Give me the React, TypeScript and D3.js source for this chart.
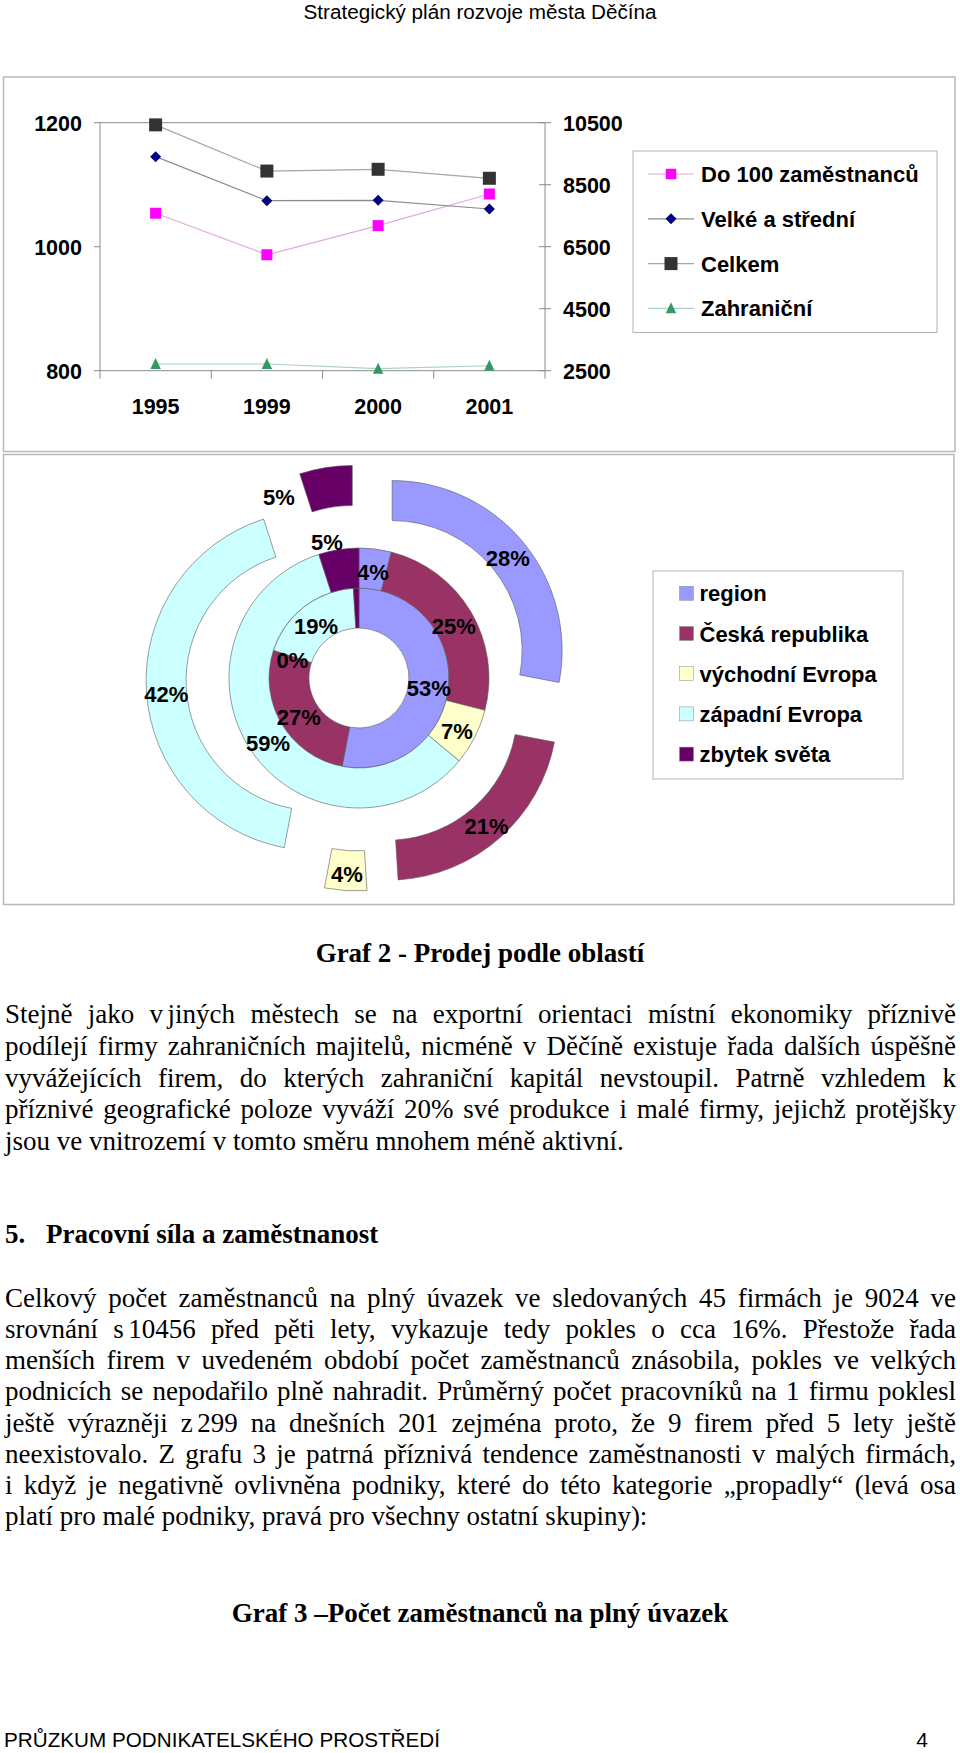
import React, { useLayoutEffect, useRef } from 'react';
import * as d3 from 'd3';

// ---------- data ----------
const years = ['1995', '1999', '2000', '2001'];
const lineSeriesNames = ['Do 100 zaměstnanců', 'Velké a střední', 'Celkem', 'Zahraniční'];
const do100 = [1054, 987, 1034, 1085];
const velke = [9404, 7984, 7995, 7716];
const celkem = [10430, 8940, 8997, 8707];
const zahranicni = [2716, 2716, 2565, 2660];
const leftTicks = [800, 1000, 1200];
const rightTicks = [2500, 4500, 6500, 8500, 10500];

const regions = ['region', 'Česká republika', 'východní Evropa', 'západní Evropa', 'zbytek světa'];
const regionColors = ['#9999FF', '#993366', '#FFFFCC', '#CCFFFF', '#660066'];
const innerRing = [53, 27, 0, 19, 1];
const middleRing = [4, 25, 7, 59, 5];
const outerRing = [28, 21, 4, 42, 5];

const headerText = 'Strategický plán rozvoje města Děčína';
const graf2Title = 'Graf 2 - Prodej podle oblastí';
const para1 = [
  'Stejně jako v\u2006jiných městech se na exportní orientaci místní ekonomiky příznivě',
  'podílejí firmy zahraničních majitelů, nicméně v Děčíně existuje řada dalších úspěšně',
  'vyvážejících firem, do kterých zahraniční kapitál nevstoupil. Patrně vzhledem k',
  'příznivé geografické poloze vyváží 20% své produkce i malé firmy, jejichž protějšky',
  'jsou ve vnitrozemí v tomto směru mnohem méně aktivní.',
];
const sectionNum = '5.';
const sectionTitle = 'Pracovní síla a zaměstnanost';
const para2 = [
  'Celkový počet zaměstnanců na plný úvazek ve sledovaných 45 firmách je 9024 ve',
  'srovnání s\u200610456 před pěti lety, vykazuje tedy pokles o cca 16%. Přestože řada',
  'menších firem v uvedeném období počet zaměstnanců znásobila, pokles ve velkých',
  'podnicích se nepodařilo plně nahradit. Průměrný počet pracovníků na 1 firmu poklesl',
  'ještě výrazněji z\u2006299 na dnešních 201 zejména proto, že 9 firem před 5 lety ještě',
  'neexistovalo. Z grafu 3 je patrná příznivá tendence zaměstnanosti v malých firmách,',
  'i když je negativně ovlivněna podniky, které do této kategorie „propadly“ (levá osa',
  'platí pro malé podniky, pravá pro všechny ostatní skupiny):',
];
const graf3Title = 'Graf 3 –Počet zaměstnanců na plný úvazek';
const footerText = 'PRŮZKUM PODNIKATELSKÉHO PROSTŘEDÍ';
const pageNumber = '4';

// ---------- fonts ----------
const SANS = "'Liberation Sans', Arial, sans-serif";
const SERIF = "'Liberation Serif', 'Times New Roman', serif";
const NARROW = "'Liberation Sans Narrow', 'Arial Narrow', 'Liberation Sans', sans-serif";

function markerPath(type: string, size: number) {
  const h = size / 2;
  if (type === 'square') return `M${-h},${-h}h${size}v${size}h${-size}Z`;
  if (type === 'diamond') return `M0,${-h}L${h},0L0,${h}L${-h},0Z`;
  return `M0,${-h * 1.1}L${h * 0.95},${h * 0.9}L${-h * 0.95},${h * 0.9}Z`;
}

function LineChart() {
  const x = d3.scaleBand<string>().domain(years).range([100, 545]);
  const yL = d3.scaleLinear().domain([800, 1200]).range([370.7, 122.7]);
  const yR = d3.scaleLinear().domain([2500, 10500]).range([370.7, 122.7]);
  const cx = (yr: string) => (x(yr) as number) + x.bandwidth() / 2;
  const series = [
    { name: lineSeriesNames[0], values: do100, scale: yL, fill: '#FF00FF', stroke: '#E2A8E2', marker: 'square', size: 11 },
    { name: lineSeriesNames[1], values: velke, scale: yR, fill: '#000080', stroke: '#8C8C96', marker: 'diamond', size: 11 },
    { name: lineSeriesNames[2], values: celkem, scale: yR, fill: '#333333', stroke: '#A6A6A6', marker: 'square', size: 13 },
    { name: lineSeriesNames[3], values: zahranicni, scale: yR, fill: '#339966', stroke: '#A9D2C2', marker: 'triangle', size: 11 },
  ];
  const axisColor = '#8c8c8c';
  const [x0, x1] = x.range();
  const yTop = yL(1200);
  const yBot = yL(800);
  const legendRow0 = 174;
  const legendStep = 44.8;
  return (
    <g>
      <rect x={3.5} y={77} width={951.5} height={374.5} fill="#fff" stroke="#b8b8b8" strokeWidth={1.5} />
      <line x1={x0} x2={x1} y1={yTop} y2={yTop} stroke={axisColor} strokeWidth={1} />
      <line x1={x0} x2={x0} y1={yTop} y2={yBot} stroke={axisColor} strokeWidth={1} />
      {leftTicks.map((t) => (
        <g key={'l' + t}>
          <line x1={x0 - 6} x2={x0} y1={yL(t)} y2={yL(t)} stroke={axisColor} />
          <text x={82} y={yL(t) + 8.5} textAnchor="end" fontFamily={SANS} fontWeight="bold" fontSize={21.5}>{t}</text>
        </g>
      ))}
      <line x1={x1} x2={x1} y1={yTop} y2={yBot} stroke={axisColor} strokeWidth={1} />
      {rightTicks.map((t) => (
        <g key={'r' + t}>
          <line x1={x1 - 6} x2={x1 + 6} y1={yR(t)} y2={yR(t)} stroke={axisColor} />
          <text x={563} y={yR(t) + 8.5} fontFamily={SANS} fontWeight="bold" fontSize={21.5}>{t}</text>
        </g>
      ))}
      <line x1={x0} x2={x1} y1={yBot} y2={yBot} stroke={axisColor} strokeWidth={1} />
      {[...years.map((yr) => x(yr) as number), x1].map((px, i) => (
        <line key={'xt' + i} x1={px} x2={px} y1={yBot} y2={yBot + 8} stroke={axisColor} />
      ))}
      {years.map((yr) => (
        <text key={'xl' + yr} x={cx(yr)} y={414} textAnchor="middle" fontFamily={SANS} fontWeight="bold" fontSize={21.5}>{yr}</text>
      ))}
      {series.map((s) => {
        const line = d3.line<number>().x((_, i) => cx(years[i])).y((v) => s.scale(v));
        return <path key={'ln' + s.name} d={line(s.values) || ''} fill="none" stroke={s.stroke} strokeWidth={1.2} />;
      })}
      {series.map((s) =>
        s.values.map((v, i) => (
          <path key={'m' + s.name + i} d={markerPath(s.marker, s.size)} transform={`translate(${cx(years[i])},${s.scale(v)})`} fill={s.fill} />
        ))
      )}
      <rect x={633} y={151} width={304} height={181.5} fill="#fff" stroke="#b3b3b3" strokeWidth={1} />
      {series.map((s, i) => {
        const ry = legendRow0 + i * legendStep;
        return (
          <g key={'lg' + s.name}>
            <line x1={648} x2={694} y1={ry} y2={ry} stroke={s.stroke} strokeWidth={1.2} />
            <path d={markerPath(s.marker, s.marker === 'square' && s.size === 11 ? 10.5 : s.size)} transform={`translate(671,${ry})`} fill={s.fill} />
            <text x={701} y={ry + 8} fontFamily={SANS} fontWeight="bold" fontSize={22}>{s.name}</text>
          </g>
        );
      })}
    </g>
  );
}

function DonutChart() {
  const cx = 359;
  const cy = 678;
  const pie = d3.pie<number>().sort(null).value((d) => d);
  const rings = [
    { values: innerRing, r0: 50, r1: 90, explode: 0 },
    { values: middleRing, r0: 90, r1: 130, explode: 0 },
    { values: outerRing, r0: 130, r1: 170, explode: 43 },
  ];
  const hiddenLabels = new Set(['0-4']);
  const labelOffsets: Record<string, [number, number]> = { '2-4': [-50, 6], '1-4': [-15, -31] };
  const legendRow0 = 593.3;
  const legendStep = 40.2;
  const slices: any[] = [];
  const labels: any[] = [];
  rings.forEach((ring, ri) => {
    const arcGen = d3.arc<d3.PieArcDatum<number>>().innerRadius(ring.r0).outerRadius(ring.r1);
    pie(ring.values).forEach((a, i) => {
      const mid = (a.startAngle + a.endAngle) / 2;
      const dx = ring.explode * Math.sin(mid);
      const dy = -ring.explode * Math.cos(mid);
      const key = `${ri}-${i}`;
      if (a.value > 0) {
        slices.push(
          <path key={'s' + key} d={arcGen(a) || ''} transform={`translate(${cx + dx},${cy + dy})`} fill={regionColors[i]} stroke="#5a5a5a" strokeWidth={0.6} />
        );
      }
      if (!hiddenLabels.has(key)) {
        const [lx, ly] = arcGen.centroid(a);
        const off = labelOffsets[key] || [0, 0];
        labels.push(
          <text key={'t' + key} x={cx + dx + lx + off[0]} y={cy + dy + ly + off[1] + 4} textAnchor="middle" dominantBaseline="central" fontFamily={SANS} fontWeight="bold" fontSize={22}>
            {a.value}%
          </text>
        );
      }
    });
  });
  return (
    <g>
      <rect x={3.5} y={454.5} width={950.5} height={450} fill="#fff" stroke="#b8b8b8" strokeWidth={1.5} />
      {slices}
      {labels}
      <rect x={653} y={571} width={250} height={208} fill="#fff" stroke="#b3b3b3" strokeWidth={1} />
      {regions.map((r, i) => {
        const ry = legendRow0 + i * legendStep;
        return (
          <g key={'lg2' + r}>
            <rect x={679.5} y={ry - 7} width={14} height={14} fill={regionColors[i]} stroke="#8a8a8a" strokeWidth={0.5} />
            <text x={699.5} y={ry + 8} fontFamily={SANS} fontWeight="bold" fontSize={22}>{r}</text>
          </g>
        );
      })}
    </g>
  );
}

function Paragraph({ lines, x0, x1, y0, dy }: { lines: string[]; x0: number; x1: number; y0: number; dy: number }) {
  const refs = useRef<(SVGTextElement | null)[]>([]);
  useLayoutEffect(() => {
    const apply = () => {
      refs.current.forEach((el, i) => {
        if (!el || i === lines.length - 1) return;
        el.style.wordSpacing = '0px';
        const w = el.getComputedTextLength();
        const n = (lines[i].match(/ /g) || []).length;
        if (n > 0) el.style.wordSpacing = `${(x1 - x0 - w) / n}px`;
      });
    };
    apply();
    const f = (document as any).fonts;
    if (f && f.ready) f.ready.then(apply);
  }, [lines, x0, x1]);
  return (
    <g>
      {lines.map((l, i) => (
        <text
          key={i}
          ref={(el) => {
            refs.current[i] = el;
          }}
          x={x0}
          y={y0 + i * dy}
          fontFamily={SERIF}
          fontSize={27}
        >
          {l}
        </text>
      ))}
    </g>
  );
}

export default function App() {
  return (
    <svg width={960} height={1753} viewBox="0 0 960 1753" style={{ position: 'absolute', left: 0, top: 0, background: '#fff' }}>
      <rect x={0} y={0} width={960} height={1753} fill="#fff" />
      <text x={480} y={19} textAnchor="middle" fontFamily={NARROW} fontSize={20} textLength={353} lengthAdjust="spacingAndGlyphs">
        {headerText}
      </text>
      <LineChart />
      <DonutChart />
      <text x={480} y={961.7} textAnchor="middle" fontFamily={SERIF} fontWeight="bold" fontSize={27}>{graf2Title}</text>
      <Paragraph lines={para1} x0={5} x1={956} y0={1023.3} dy={31.7} />
      <text x={5} y={1243.3} fontFamily={SERIF} fontWeight="bold" fontSize={27}>{sectionNum}</text>
      <text x={46} y={1243.3} fontFamily={SERIF} fontWeight="bold" fontSize={27}>{sectionTitle}</text>
      <Paragraph lines={para2} x0={5} x1={956} y0={1306.7} dy={31.25} />
      <text x={480} y={1621.7} textAnchor="middle" fontFamily={SERIF} fontWeight="bold" fontSize={27}>{graf3Title}</text>
      <text x={4} y={1746.7} fontFamily={NARROW} fontSize={21} textLength={436} lengthAdjust="spacingAndGlyphs">{footerText}</text>
      <text x={928} y={1746.7} textAnchor="end" fontFamily={NARROW} fontSize={21}>{pageNumber}</text>
    </svg>
  );
}
